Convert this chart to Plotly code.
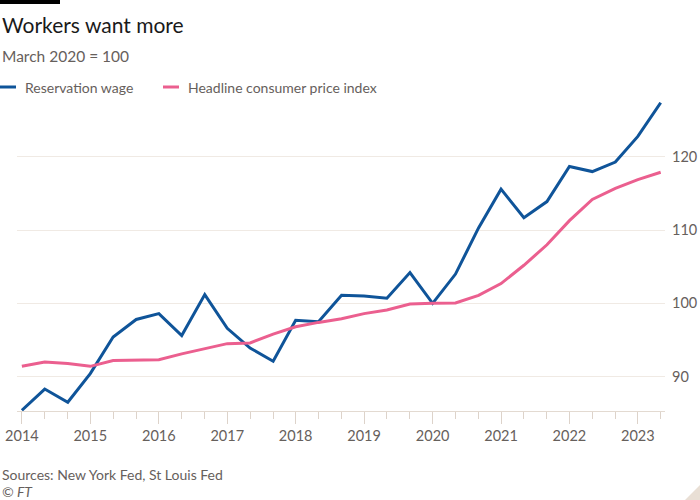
import pandas as pd
import plotly.graph_objects as go

# ---- data (March 2020 = 100), survey every four months ----
dates = pd.date_range("2014-03-01", periods=29, freq="4MS")
reservation_wage = [85.4, 88.3, 86.5, 90.4, 95.4, 97.8, 98.6, 95.6, 101.2, 96.6,
                    93.9, 92.1, 97.7, 97.5, 101.1, 101.0, 100.7, 104.2, 100.0, 104.0,
                    110.3, 115.6, 111.7, 113.9, 118.7, 118.0, 119.3, 122.8, 127.4]
headline_cpi = [91.4, 92.0, 91.8, 91.4, 92.2, 92.2, 92.3, 93.1, 93.8, 94.5,
                94.6, 95.8, 96.8, 97.4, 97.9, 98.6, 99.1, 99.9, 100.0, 100.05,
                101.1, 102.7, 105.2, 108.0, 111.3, 114.2, 115.7, 116.9, 117.9]
series_names = ["Reservation wage", "Headline consumer price index"]
series_colors = ["#0f5499", "#eb5f8f"]

title = "Workers want more"
subtitle = "March 2020 = 100"
source = "Sources: New York Fed, St Louis Fed"
credit = "© FT"

FONT = "Lato"
GREY = "#66605c"

W, H = 700, 500
L, R, T, B = 17, 665, 102, 411


def px(x):
    return (x - L) / (R - L)


def py(y):
    return (B - y) / (B - T)


fig = go.Figure()
for name, vals, col in zip(series_names, [reservation_wage, headline_cpi], series_colors):
    fig.add_trace(go.Scatter(x=dates, y=vals, mode="lines", name=name,
                             line=dict(color=col, width=3), showlegend=False,
                             hoverinfo="skip"))

annotations = [
    dict(text=title, x=px(0), y=py(25), font=dict(size=21, color="#1a1a1a")),
    dict(text=subtitle, x=px(0), y=py(56), font=dict(size=15.5, color=GREY)),
    dict(text=series_names[0], x=px(23), y=py(87), font=dict(size=14, color=GREY)),
    dict(text=series_names[1], x=px(186), y=py(87), font=dict(size=14, color=GREY)),
    dict(text=source, x=px(0), y=py(474), font=dict(size=14, color=GREY)),
    dict(text="<i>" + credit + "</i>", x=px(0), y=py(492), font=dict(size=14, color=GREY)),
]
for a in annotations:
    a.update(xref="paper", yref="paper", xanchor="left", yanchor="middle",
             showarrow=False)
    a["font"]["family"] = FONT

shapes = [
    dict(type="rect", xref="paper", yref="paper", x0=px(0), x1=px(60),
         y0=py(0), y1=py(4), fillcolor="#000000", line=dict(width=0)),
    dict(type="line", xref="paper", yref="paper", x0=px(0), x1=px(16),
         y0=py(87), y1=py(87), line=dict(color=series_colors[0], width=3)),
    dict(type="line", xref="paper", yref="paper", x0=px(163), x1=px(179),
         y0=py(87), y1=py(87), line=dict(color=series_colors[1], width=3)),
    dict(type="path", xref="paper", yref="paper",
         path=f"M {px(700)} {py(485)} L {px(700)} {py(500)} L {px(685)} {py(500)} Z",
         fillcolor="#e9dfd5", line=dict(width=0)),
]

fig.update_layout(
    width=W, height=H,
    margin=dict(l=L, r=W - R, t=T, b=H - B, pad=0, autoexpand=False),
    paper_bgcolor="white", plot_bgcolor="white",
    font=dict(family=FONT, color=GREY, size=15),
    annotations=annotations, shapes=shapes,
    showlegend=False,
    hovermode=False,
    xaxis=dict(type="date", range=["2014-02-03", "2023-07-24"], automargin=False,
               tick0="2014-03-01", dtick="M12", tickformat="%Y",
               ticks="outside", ticklen=12, tickcolor="#ddd3ca", tickwidth=1,
               minor=dict(dtick="M4", tick0="2014-03-01", ticks="outside",
                          ticklen=7, tickcolor="#ddd3ca", showgrid=False),
               showline=True, linecolor="#e3dad1", linewidth=1,
               showgrid=False, zeroline=False,
               tickfont=dict(size=14.5, color=GREY, family=FONT)),
    yaxis=dict(side="right", range=[85.3, 127.5], tick0=0, dtick=10, automargin=False,
               showgrid=True, gridcolor="#f0eae4", gridwidth=1,
               ticks="", zeroline=False, showline=False,
               ticklabelstandoff=6,
               tickfont=dict(size=14.5, color=GREY, family=FONT)),
)

fig.write_html("out.html", config={"displayModeBar": False},
               post_script="document.body.style.margin='0px';")
